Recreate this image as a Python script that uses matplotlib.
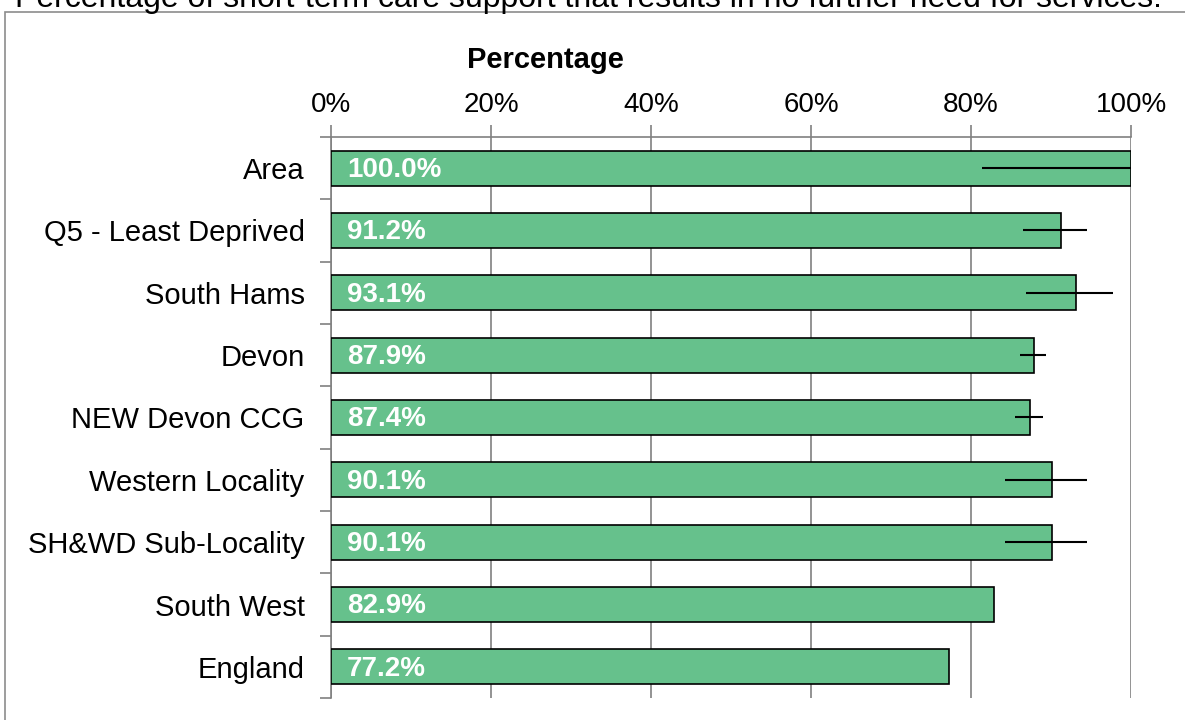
import numpy as np
import matplotlib.pyplot as plt
from matplotlib.patches import Rectangle

plt.rcParams['font.family'] = ['Liberation Sans', 'DejaVu Sans']

areas = ['Area', 'Q5 - Least Deprived', 'South Hams', 'Devon', 'NEW Devon CCG',
         'Western Locality', 'SH&WD Sub-Locality', 'South West', 'England']
values = [100.0, 91.2, 93.1, 87.9, 87.4, 90.1, 90.1, 82.9, 77.2]
ci_low = [81.4, 86.5, 86.9, 86.1, 85.5, 84.25, 84.25, np.nan, np.nan]
ci_high = [100.0, 94.5, 97.75, 89.4, 89.0, 94.5, 94.5, np.nan, np.nan]

title = 'Percentage of short-term care support that results in no further need for services.'

fig = plt.figure(figsize=(11.85, 7.2), dpi=100)
W, H = 1185, 720
ax = fig.add_axes([331 / W, 1 - 698 / H, 800 / W, 561 / H])

y = np.arange(len(areas))
ax.barh(y, values, height=0.56, color='#66c18c', edgecolor='black', linewidth=1.2, zorder=3)

vals = np.array(values)
lo = vals - np.array(ci_low)
hi = np.array(ci_high) - vals
ax.errorbar(vals, y, xerr=[lo, hi], fmt='none', ecolor='black', elinewidth=1.5,
            capsize=0, zorder=4)

for yi, v in zip(y, values):
    ax.text(2, yi + 0.03, f'{v:.1f}%', color='white', fontweight='bold', fontsize=20,
            va='center', ha='left', zorder=5)

ax.set_xlim(0, 100)
ax.set_ylim(len(areas) - 0.5, -0.5)
ax.set_xticks(np.arange(0, 101, 20))
ax.set_xticklabels([f'{t}%' for t in range(0, 101, 20)])
ax.xaxis.tick_top()
ax.tick_params(axis='x', labelsize=20, length=9, color='#808080', width=1.2, pad=5)
ax.text(0.2675, 1.123, 'Percentage', transform=ax.transAxes, fontsize=21,
        fontweight='bold', ha='center', va='baseline')

ax.set_yticks(y)
ax.set_yticklabels(areas)
ax.set_yticks(np.arange(-0.5, len(areas), 1), minor=True)
ax.tick_params(axis='y', which='major', length=0, labelsize=21, pad=19)
ax.tick_params(axis='y', which='minor', length=8, color='#808080', width=1.2)

ax.grid(axis='x', color='#808080', linewidth=1.2, zorder=0)
for side in ['right', 'bottom']:
    ax.spines[side].set_visible(False)
for side in ['top', 'left']:
    ax.spines[side].set_color('#808080')
    ax.spines[side].set_linewidth(1.2)

fig.patches.append(Rectangle((5 / W, -0.1), 1.2, 1 - 12 / H + 0.1, transform=fig.transFigure,
                             fill=False, edgecolor='#8c8c8c', linewidth=1.2))
fig.text(588 / W, 1 - 7 / H, title, fontsize=23, ha='center', va='baseline')

fig.savefig('out.png', dpi=100)
